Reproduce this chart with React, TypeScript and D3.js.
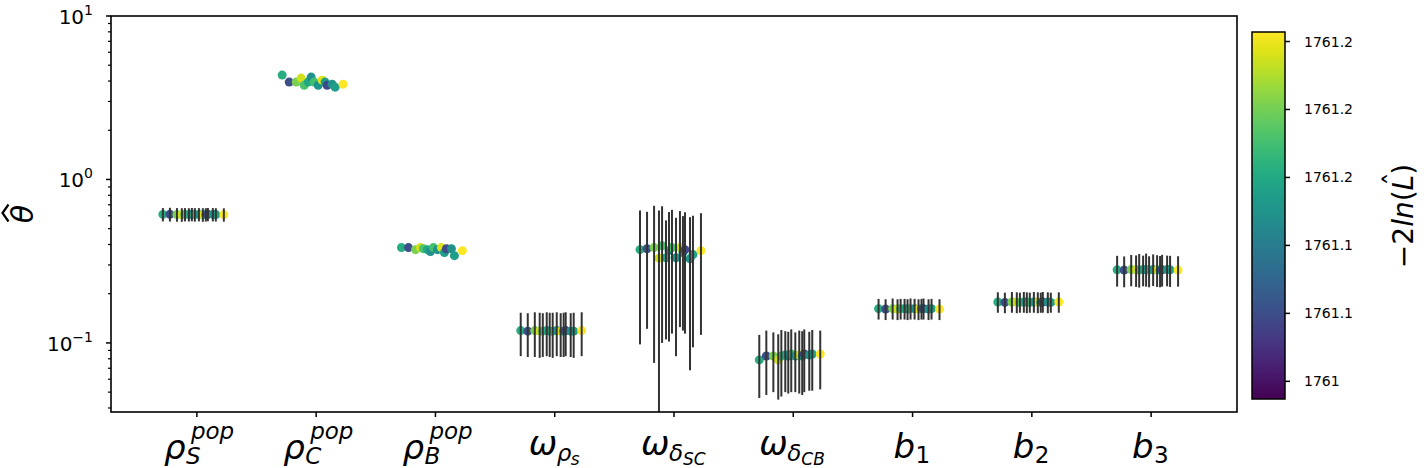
import React from "react";
import * as d3 from "d3";

// parameter order along the x axis
const CATEGORIES = ["rhoS", "rhoC", "rhoB", "omegaRho", "omegaDSC", "omegaDCB", "b1", "b2", "b3"];

// one entry per fit run: horizontal jitter (category units) and -2ln(L)
const RUN_OFFSETS = [-0.285, -0.226, -0.167, -0.126, -0.1, -0.067, -0.042, -0.017, 0.017, 0.05, 0.075, 0.092, 0.134, 0.159, 0.226];
const RUN_NLL = [1761.155, 1761.052, 1761.203, 1761.238, 1761.181, 1761.149, 1761.122, 1761.176, 1761.127, 1761.243, 1761.136, 1761.046, 1761.122, 1761.138, 1761.255];

const RHO_S_EST = [0.611, 0.612, 0.61, 0.609, 0.611, 0.61, 0.612, 0.61, 0.611, 0.609, 0.61, 0.612, 0.611, 0.61, 0.609];
const RHO_S_LO = [0.554, 0.553, 0.552, 0.551, 0.554, 0.553, 0.555, 0.552, 0.554, 0.551, 0.553, 0.555, 0.554, 0.553, 0.552];
const RHO_S_HI = [0.668, 0.671, 0.668, 0.667, 0.668, 0.667, 0.669, 0.668, 0.668, 0.667, 0.667, 0.669, 0.668, 0.667, 0.666];

const RHO_C_EST = [4.35, 3.94, 3.94, 4.17, 3.77, 3.94, 4.23, 3.94, 3.77, 4.05, 3.94, 3.77, 3.83, 3.67, 3.83];

const RHO_B_EST = [0.383, 0.383, 0.372, 0.383, 0.377, 0.372, 0.362, 0.383, 0.372, 0.383, 0.357, 0.377, 0.377, 0.342, 0.367];

const OMEGA_RHO_EST = [0.119, 0.118, 0.119, 0.118, 0.118, 0.119, 0.118, 0.118, 0.119, 0.118, 0.118, 0.119, 0.118, 0.118, 0.119];
const OMEGA_RHO_LO = [0.083, 0.082, 0.082, 0.081, 0.082, 0.083, 0.082, 0.081, 0.083, 0.082, 0.082, 0.083, 0.082, 0.081, 0.083];
const OMEGA_RHO_HI = [0.153, 0.152, 0.154, 0.153, 0.152, 0.154, 0.153, 0.153, 0.154, 0.152, 0.153, 0.154, 0.152, 0.153, 0.154];

const OMEGA_DSC_EST = [0.372, 0.377, 0.383, 0.33, 0.393, 0.332, 0.367, 0.383, 0.332, 0.383, 0.357, 0.372, 0.327, 0.347, 0.367];
const OMEGA_DSC_LO = [0.098, 0.122, 0.0755, 0.005, 0.1, 0.105, 0.102, 0.114, 0.083, 0.125, 0.119, 0.114, 0.068, 0.094, 0.112];
const OMEGA_DSC_HI = [0.646, 0.634, 0.69, 0.645, 0.686, 0.562, 0.632, 0.652, 0.583, 0.641, 0.597, 0.63, 0.588, 0.6, 0.622];

const OMEGA_DCB_EST = [0.0787, 0.0832, 0.0832, 0.0787, 0.0832, 0.0844, 0.0832, 0.0856, 0.0832, 0.0844, 0.0832, 0.0856, 0.0844, 0.0856, 0.0856];
const OMEGA_DCB_LO = [0.046, 0.048, 0.05, 0.045, 0.047, 0.05, 0.049, 0.05, 0.05, 0.049, 0.048, 0.05, 0.051, 0.051, 0.052];
const OMEGA_DCB_HI = [0.112, 0.119, 0.116, 0.113, 0.12, 0.118, 0.117, 0.121, 0.116, 0.119, 0.118, 0.121, 0.117, 0.12, 0.119];

const B1_EST = [0.162, 0.161, 0.162, 0.161, 0.162, 0.162, 0.161, 0.162, 0.162, 0.161, 0.162, 0.162, 0.161, 0.162, 0.161];
const B1_LO = [0.139, 0.138, 0.139, 0.138, 0.139, 0.139, 0.138, 0.139, 0.139, 0.138, 0.139, 0.139, 0.138, 0.139, 0.138];
const B1_HI = [0.186, 0.185, 0.187, 0.185, 0.186, 0.186, 0.185, 0.187, 0.186, 0.185, 0.186, 0.187, 0.185, 0.186, 0.185];

const B2_EST = [0.178, 0.177, 0.178, 0.178, 0.177, 0.178, 0.178, 0.177, 0.178, 0.178, 0.177, 0.178, 0.178, 0.177, 0.178];
const B2_LO = [0.153, 0.152, 0.153, 0.152, 0.153, 0.153, 0.152, 0.153, 0.153, 0.152, 0.153, 0.153, 0.152, 0.153, 0.153];
const B2_HI = [0.204, 0.203, 0.205, 0.204, 0.203, 0.205, 0.204, 0.203, 0.205, 0.204, 0.203, 0.205, 0.204, 0.203, 0.204];

const B3_EST = [0.28, 0.279, 0.281, 0.28, 0.279, 0.281, 0.28, 0.279, 0.281, 0.28, 0.279, 0.28, 0.281, 0.28, 0.279];
const B3_LO = [0.221, 0.219, 0.222, 0.22, 0.218, 0.222, 0.221, 0.219, 0.223, 0.22, 0.219, 0.221, 0.222, 0.22, 0.221];
const B3_HI = [0.341, 0.338, 0.345, 0.343, 0.35, 0.342, 0.352, 0.339, 0.348, 0.344, 0.34, 0.346, 0.342, 0.341, 0.339];

const Y_DOMAIN = [0.0378, 10];
const Y_MAJOR = [0.1, 1, 10];
const Y_MAJOR_EXP = ["\u22121", "0", "1"];

const NLL_RANGE = [1760.987, 1761.257];
const CBAR_TICKS = [1761.0, 1761.05, 1761.1, 1761.15, 1761.2, 1761.25];
const CBAR_LABELS = ["1761", "1761.1", "1761.1", "1761.2", "1761.2", "1761.2"];

const SERIES = [
  { est: RHO_S_EST, lo: RHO_S_LO, hi: RHO_S_HI },
  { est: RHO_C_EST, lo: null, hi: null },
  { est: RHO_B_EST, lo: null, hi: null },
  { est: OMEGA_RHO_EST, lo: OMEGA_RHO_LO, hi: OMEGA_RHO_HI },
  { est: OMEGA_DSC_EST, lo: OMEGA_DSC_LO, hi: OMEGA_DSC_HI },
  { est: OMEGA_DCB_EST, lo: OMEGA_DCB_LO, hi: OMEGA_DCB_HI },
  { est: B1_EST, lo: B1_LO, hi: B1_HI },
  { est: B2_EST, lo: B2_LO, hi: B2_HI },
  { est: B3_EST, lo: B3_LO, hi: B3_HI },
];

const FONT = "DejaVu Sans";
const M = 34; // main math size
const S1 = 23; // script
const S2 = 17; // scriptscript

type Piece = { t: string; dx: number; dy: number; size: number; italic?: boolean };

const rhoLabel = (sub: string): { start: number; base: number; pieces: Piece[] } => ({
  start: -33,
  base: 459,
  pieces: [
    { t: "ρ", dx: 0, dy: 0, size: M, italic: true },
    { t: sub, dx: 22, dy: 5, size: S1, italic: true },
    { t: "pop", dx: 27, dy: -20, size: S1, italic: true },
  ],
});
const omegaLabel = (sub: string, subsub: string, start: number): { start: number; base: number; pieces: Piece[] } => ({
  start,
  base: 455,
  pieces: [
    { t: "ω", dx: 0, dy: 0, size: M, italic: true },
    { t: sub, dx: 28, dy: 6, size: S1, italic: true },
    { t: subsub, dx: 42, dy: 10, size: S2, italic: true },
  ],
});
const bLabel = (sub: string): { start: number; base: number; pieces: Piece[] } => ({
  start: -19,
  base: 458,
  pieces: [
    { t: "b", dx: 0, dy: 0, size: M, italic: true },
    { t: sub, dx: 22, dy: 5, size: S1 },
  ],
});

// mathtext-like pieces for each tick label, offsets from the label start
const LABEL_PIECES: Record<string, { start: number; base: number; pieces: Piece[] }> = {
  rhoS: rhoLabel("S"),
  rhoC: rhoLabel("C"),
  rhoB: rhoLabel("B"),
  omegaRho: omegaLabel("ρ", "s", -26),
  omegaDSC: omegaLabel("δ", "SC", -33),
  omegaDCB: omegaLabel("δ", "CB", -34),
  b1: bLabel("1"),
  b2: bLabel("2"),
  b3: bLabel("3"),
};

const W = 1424;
const H = 468;
const PL = 111, PR = 1237, PT = 16, PB = 412;
const CB = { x: 1252, y: 32, w: 33, h: 367 };

export default function App() {
  const x = d3.scaleLinear().domain([-0.72, 8.72]).range([PL, PR]);
  const y = d3.scaleLog().domain(Y_DOMAIN).range([PB, PT]);
  const color = d3.scaleSequential(d3.interpolateViridis).domain(NLL_RANGE);
  const cy = d3.scaleLinear().domain(NLL_RANGE).range([CB.y + CB.h, CB.y]);

  const minorTicks: number[] = [];
  [0.01, 0.1, 1].forEach((dec) => {
    for (let k = 2; k <= 9; k++) {
      const v = dec * k;
      if (v >= Y_DOMAIN[0] && v <= Y_DOMAIN[1]) minorTicks.push(v);
    }
  });

  const gradStops = d3.range(0, 1.0001, 0.05);

  return (
    <svg width={W} height={H} style={{ position: "absolute", left: 0, top: 0, background: "#fff" }} fontFamily={FONT}>
      <defs>
        <clipPath id="plotClip">
          <rect x={PL} y={PT} width={PR - PL} height={PB - PT} />
        </clipPath>
        <linearGradient id="viridis" x1="0" y1="1" x2="0" y2="0">
          {gradStops.map((t) => (
            <stop key={t} offset={t} stopColor={d3.interpolateViridis(t)} />
          ))}
        </linearGradient>
      </defs>

      <g clipPath="url(#plotClip)">
        {SERIES.map((s, i) =>
          s.est.map((v, j) => (
            <circle key={`p${i}-${j}`} cx={x(i + RUN_OFFSETS[j])} cy={y(v)} r={4.5} fill={color(RUN_NLL[j])} />
          ))
        )}
        {SERIES.map((s, i) =>
          s.lo && s.hi
            ? s.est.map((_, j) => (
                <line
                  key={`e${i}-${j}`}
                  x1={x(i + RUN_OFFSETS[j])}
                  x2={x(i + RUN_OFFSETS[j])}
                  y1={y(Math.max(s.lo![j], 1e-4))}
                  y2={y(s.hi![j])}
                  stroke="#333"
                  strokeWidth={2}
                />
              ))
            : null
        )}
      </g>

      {/* frame */}
      <rect x={PL} y={PT} width={PR - PL} height={PB - PT} fill="none" stroke="#000" strokeWidth={1.6} />

      {/* y ticks */}
      {minorTicks.map((v) => (
        <line key={`mt${v}`} x1={PL - 3} x2={PL} y1={y(v)} y2={y(v)} stroke="#000" strokeWidth={1.2} />
      ))}
      {Y_MAJOR.map((v, i) => (
        <g key={`yt${v}`}>
          <line x1={PL - 5} x2={PL} y1={y(v)} y2={y(v)} stroke="#000" strokeWidth={1.5} />
          <text x={93} y={y(v) + 8} textAnchor="end" fontSize={20} fill="#000">
            10
            <tspan fontSize={14} dy={-9}>{Y_MAJOR_EXP[i]}</tspan>
          </text>
        </g>
      ))}

      {/* x ticks and labels */}
      {CATEGORIES.map((c, i) => {
        const cx = x(i);
        const lab = LABEL_PIECES[c];
        return (
          <g key={c}>
            <line x1={cx} x2={cx} y1={PB} y2={PB + 5} stroke="#000" strokeWidth={1.5} />
            {lab.pieces.map((p, k) => (
              <text
                key={k}
                x={cx + lab.start + p.dx}
                y={lab.base + p.dy}
                fontSize={p.size}
                fontStyle={p.italic ? "italic" : "normal"}
                fill="#000"
              >
                {p.t}
              </text>
            ))}
          </g>
        );
      })}

      {/* y label: theta with a hat accent */}
      <g transform="translate(33,214) rotate(-90)">
        <text textAnchor="middle" fontSize={30} fontStyle="italic" fill="#000">θ</text>
        <path d="M -7.5 -24.5 L 1 -30.5 L 9.5 -24.5" fill="none" stroke="#000" strokeWidth={2.2} strokeLinejoin="miter" />
      </g>

      {/* colorbar */}
      <rect x={CB.x} y={CB.y} width={CB.w} height={CB.h} fill="url(#viridis)" stroke="#000" strokeWidth={1.5} />
      {CBAR_TICKS.map((t, i) => (
        <g key={`cb${i}`}>
          <line x1={CB.x + CB.w} x2={CB.x + CB.w + 5} y1={cy(t)} y2={cy(t)} stroke="#000" strokeWidth={1.5} />
          <text x={CB.x + CB.w + 19} y={cy(t) + 5} fontSize={14} fill="#000">{CBAR_LABELS[i]}</text>
        </g>
      ))}
      <g transform="translate(1413,216) rotate(-90)">
        <text textAnchor="middle" fontSize={28} fill="#000">
          −2<tspan fontStyle="italic">ln</tspan>(<tspan fontStyle="italic">L</tspan>)
        </text>
        <text x={37} y={-8} textAnchor="middle" fontSize={28} fill="#000">ˆ</text>
      </g>
    </svg>
  );
}
